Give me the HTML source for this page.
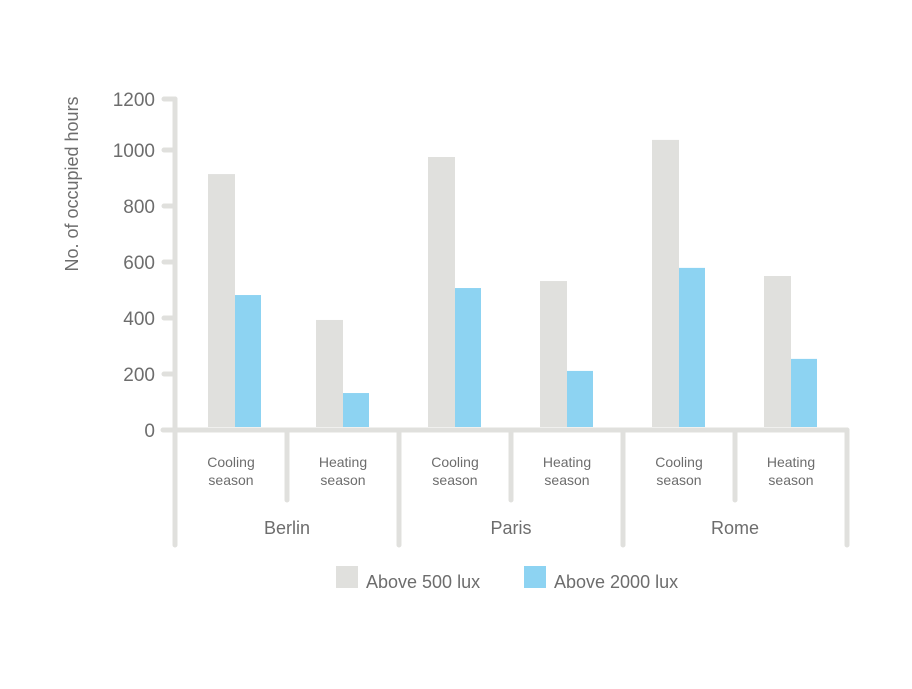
<!DOCTYPE html>
<html><head><meta charset="utf-8"><style>
body{margin:0;background:#fff;}
svg text{font-family:"Liberation Sans",sans-serif;fill:#6d6d6d;}
</style></head><body>
<svg id="chart" width="912" height="684" xmlns="http://www.w3.org/2000/svg">
<g id="axes"></g>
<g id="bars"></g>
<g id="labels"></g>
<text transform="translate(78,184) rotate(-90)" text-anchor="middle" font-size="18">No. of occupied hours</text>
<g>
<rect x="336" y="566" width="22" height="22" fill="#e0e0dd"/>
<text x="366" y="588" font-size="18">Above 500 lux</text>
<rect x="524" y="566" width="22" height="22" fill="#8dd3f2"/>
<text x="554" y="588" font-size="18">Above 2000 lux</text>
</g>
</svg>
<script>
const cities = ["Berlin","Paris","Rome"];
const seasons = ["Cooling season","Heating season"];
const above500 = [914,393,975,532,1036,550];
const above2000 = [482,132,507,211,579,254];
const yTicks = [0,200,400,600,800,1000,1200];

const NS="http://www.w3.org/2000/svg";
const x0=175, groupW=112, y0=430, pxPerUnit=0.28;
const y=v=>Math.max(y0-v*pxPerUnit, 99);
const yb=v=>y0-v*pxPerUnit;
function mk(tag,attrs,parent,text){const e=document.createElementNS(NS,tag);for(const k in attrs)e.setAttribute(k,attrs[k]);if(text!=null)e.textContent=text;parent.appendChild(e);return e;}
const axes=document.getElementById('axes'),bars=document.getElementById('bars'),labels=document.getElementById('labels');
const st={stroke:"#e0e0dd","stroke-width":5,"stroke-linecap":"round"};
const ya=mk('line',Object.assign({x1:x0,y1:99,x2:x0,y2:545},st),axes);


const xa=mk('line',Object.assign({x1:163,y1:y0,x2:847,y2:y0},st),axes);


yTicks.forEach(t=>{
 const l=mk('line',Object.assign({x1:164,y1:y(t),x2:x0,y2:y(t)},st),axes);
 
 
 const tx=mk('text',{x:155,y:y(t)+7,"text-anchor":"end","font-size":19},labels,String(t));
 
 
});
above500.forEach((v,i)=>{
 const cx=x0+i*groupW+56+(i===0?4:0);
 const r1=mk('rect',{x:cx-27,y:yb(v),width:27,height:427-yb(v),fill:"#e0e0dd"},bars);
 
 
 const r2=mk('rect',{x:cx,y:yb(above2000[i]),width:26,height:427-yb(above2000[i]),fill:"#8dd3f2"},bars);
 
 
 const lx=x0+i*groupW+56;
 const words=seasons[i%2].split(' ');
 const t=mk('text',{x:lx,y:467,"text-anchor":"middle","font-size":14},labels,words[0]);
 
 
 const t2=mk('text',{x:lx,y:485,"text-anchor":"middle","font-size":14},labels,words[1]);
 
 
 const dx=x0+(i+1)*groupW;
 const d=mk('line',Object.assign({x1:dx,y1:y0,x2:dx,y2:(i%2===0?500:545)},st),axes);
 
 
});
cities.forEach((c,j)=>{
 const t=mk('text',{x:x0+j*2*groupW+groupW,y:534,"text-anchor":"middle","font-size":18},labels,c);
 
 
});
</script>
</body></html>
